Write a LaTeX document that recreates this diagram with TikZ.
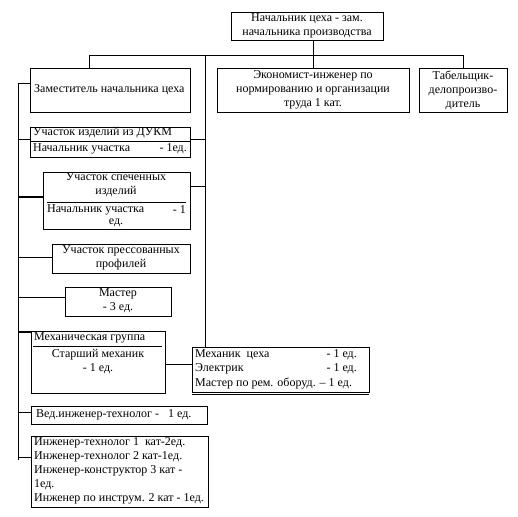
\documentclass[tikz,border=0pt]{standalone}
\usepackage{fontspec}
\setmainfont{Liberation Serif}
\usetikzlibrary{calc}
\begin{document}
\begin{tikzpicture}[x=1pt,y=-1pt,
  box/.style={draw, line width=0.9pt, inner sep=0pt, outer sep=0pt, anchor=north west},
  txt/.style={font=\fontsize{12}{14}\selectfont, inner sep=0pt, align=center},
  ln/.style={line width=0.8pt},
  thk/.style={line width=1.6pt}]
\useasboundingbox[fill=white] (0,0) rectangle (518,516);
% boxes
\node[box, minimum width=152pt, minimum height=28pt] (top) at (231,12) {};
\node[box, minimum width=160pt, minimum height=44pt] (zam) at (30,68) {};
\node[box, minimum width=192pt, minimum height=44pt] (econ) at (217,68) {};
\node[box, minimum width=88pt, minimum height=44pt] (tab) at (419,68) {};
\node[box, minimum width=160pt, minimum height=30pt] (dukm) at (30,127) {};
\node[box, minimum width=147pt, minimum height=57pt] (spech) at (43,172) {};
\node[box, minimum width=138pt, minimum height=29pt] (press) at (52,244) {};
\node[box, minimum width=106pt, minimum height=29pt] (master) at (65,287) {};
\node[box, minimum width=134pt, minimum height=62pt] (mgr) at (31,331) {};
\node[box, minimum width=177pt, minimum height=45pt] (mbox) at (192,347) {};
\node[box, minimum width=176pt, minimum height=18pt] (ved) at (31,406) {};
\node[box, minimum width=177pt, minimum height=71pt] (eng) at (31,436) {};
% dividers and shadow
\draw[ln] (dukm.west |- 0,141) -- (dukm.east |- 0,141);
\draw[ln] (47,202) -- (186,202);
\draw[ln] (33,346) -- (162,346);
\draw[line width=0.8pt] ($(mbox.south west)+(0,2.5)$) -- ($(mbox.south east)+(0,2.5)$);
% texts
\node[txt] (ttop) at (top.center) {Начальник цеха - зам.\\начальника производства};
\node[txt, anchor=west] (tzam) at (34,90) {Заместитель начальника цеха};
\node[txt] (tecon) at (econ.center) {Экономист-инженер по\\нормированию и организации\\труда 1 кат.};
\node[txt] (ttab) at (tab.center) {Табельщик-\\делопроизво-\\дитель};
\node[txt, anchor=west] (td1) at (33,133) {Участок изделий из ДУКМ};
\node[txt, anchor=west] (td2) at (33,149) {Начальник участка};
\node[txt, anchor=east] (td3) at (187,149) {- 1ед.};
\node[txt] (ts1) at (116,185) {Участок спеченных\\изделий};
\node[txt, anchor=west] (ts2) at (47,210) {Начальник участка};
\node[txt, anchor=east] (ts3) at (186,210) {- 1};
\node[txt] (ts4) at (116,223) {ед.};
\node[txt] (tp) at (121,258) {Участок прессованных\\профилей};
\node[txt] (tm) at (118,301) {Мастер\\- 3 ед.};
\node[txt, anchor=west] (tg1) at (34,338) {Механическая группа};
\node[txt] (tg2) at (98,362) {Старший механик\\- 1 ед.};
\node[txt, anchor=west] (tb1) at (195,355) {Механик\ \ цеха};
\node[txt, anchor=east] (tb2) at (357,355) {- 1 ед.};
\node[txt, anchor=west] (tb3) at (195,369) {Электрик};
\node[txt, anchor=east] (tb4) at (357,369) {- 1 ед.};
\node[txt, anchor=west] (tb5) at (195,383) {Мастер по рем. оборуд. – 1 ед.};
\node[txt, anchor=west] (tv) at (36,415) {Вед.инженер-технолог -\ \ \ 1 ед.};
\node[txt, align=left, anchor=north west] (te) at (34,437.5) {Инженер-технолог 1\ \ кат-2ед.\\Инженер-технолог 2 кат-1ед.\\Инженер-конструктор 3 кат -\\1ед.\\Инженер по инструм. 2 кат - 1ед.};
% connectors
\coordinate (hL) at (89,55);
\coordinate (hR) at (tab.north |- hL);
\coordinate (rT) at (205,55);
\coordinate (lT) at (18,83);
\coordinate (lB) at (18,460);
\draw[ln] (hL) -- (hR);
\draw[ln] (hL) -- (hL |- zam.north);
\draw[ln] (hR) -- (tab.north);
\draw[ln] (econ.north |- top.south) -- (econ.north);
\draw[ln] (rT) -- (rT |- mbox.north);
\draw[ln] (lT) -- (lB);
\draw[ln] (lT) -- (lT -| zam.west);
\draw[ln] (18,139) -- (dukm.west |- 0,139);
\draw[ln] (dukm.east |- 0,139) -- (rT |- 0,139);
\draw[thk] (18,197) -- (spech.west |- 0,197);
\draw[ln] (spech.east |- 0,186) -- (rT |- 0,186);
\draw[ln] (18,257) -- (press.west |- 0,257);
\draw[ln] (18,297) -- (master.west |- 0,297);
\draw[thk] (18,332) -- (mgr.west |- 0,332);
\draw[ln] (mgr.east |- 0,364) -- (mbox.west |- 0,364);
\draw[ln] (18,412) -- (ved.west |- 0,412);
\draw[ln] (18,457) -- (eng.west |- 0,457);
\end{tikzpicture}
\end{document}
